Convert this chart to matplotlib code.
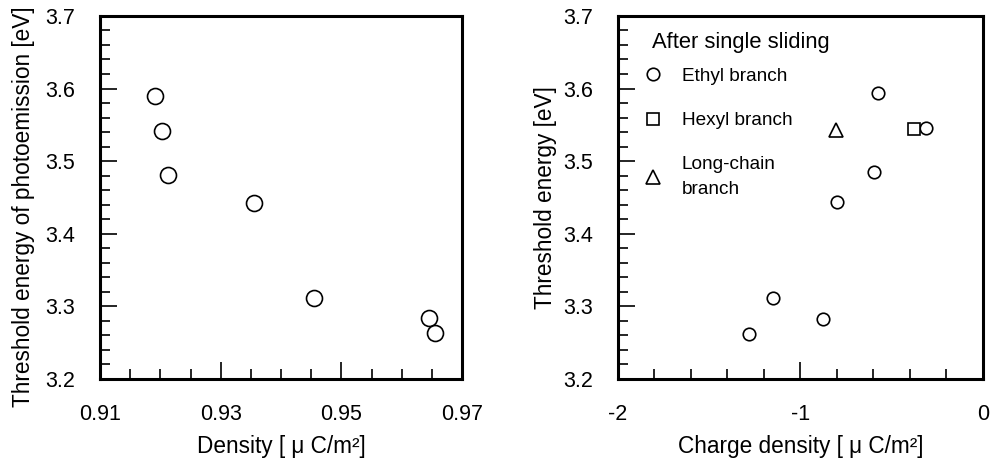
import matplotlib

matplotlib.use("Agg")
import matplotlib.pyplot as plt
from matplotlib.lines import Line2D
from matplotlib.ticker import MultipleLocator

plt.rcParams["font.family"] = ["Liberation Sans", "DejaVu Sans"]

# left panel: density vs threshold energy
density = [0.9191, 0.9203, 0.9212, 0.9355, 0.9454, 0.9646, 0.9656]
threshold_left = [3.590, 3.541, 3.481, 3.442, 3.312, 3.284, 3.263]
density_ticks = [0.91, 0.93, 0.95, 0.97]

# right panel: charge density vs threshold energy
ethyl_charge = [-0.575, -0.314, -0.599, -0.798, -1.151, -0.877, -1.282]
ethyl_energy = [3.594, 3.545, 3.485, 3.444, 3.312, 3.283, 3.262]
hexyl_charge = [-0.380]
hexyl_energy = [3.544]
long_charge = [-0.807]
long_energy = [3.543]
legend_labels = ["Ethyl branch", "Hexyl branch", "Long-chain\nbranch"]

TICK_FS = 15.5
LABEL_FS = 16.3

fig = plt.figure(figsize=(9.94, 4.61), dpi=100)
ax1 = fig.add_axes([0.1006, 0.178, 0.3642, 0.7875])
ax2 = fig.add_axes([0.6217, 0.178, 0.3672, 0.7875])


def style_axes(ax):
    for spine in ax.spines.values():
        spine.set_linewidth(2.2)
    ax.tick_params(which="both", direction="in", top=False, right=False,
                   width=1.2, labelsize=TICK_FS, pad=18)
    ax.tick_params(which="major", length=12)
    ax.tick_params(which="minor", length=7.5)
    ax.set_ylim(3.2, 3.7)
    ax.yaxis.set_major_locator(MultipleLocator(0.1))
    ax.yaxis.set_minor_locator(MultipleLocator(0.02))
    ax.yaxis.set_major_formatter(plt.FormatStrFormatter("%.1f"))


marker_kw = dict(linestyle="none", markerfacecolor="white",
                 markeredgecolor="black", markeredgewidth=1.2)

style_axes(ax1)
ax1.plot(density, threshold_left, marker="o", markersize=11.5, **marker_kw)
ax1.set_xlim(0.91, 0.97)
ax1.set_xticks(density_ticks)
ax1.xaxis.set_minor_locator(MultipleLocator(0.005))
ax1.xaxis.set_major_formatter(plt.FormatStrFormatter("%.2f"))
ax1.set_xlabel("Density [ μ C/m²]", fontsize=LABEL_FS, labelpad=7)
ax1.set_ylabel("Threshold energy of photoemission [eV]", fontsize=LABEL_FS)
ax1.yaxis.set_label_coords(-0.18, 0.474)

style_axes(ax2)
ax2.plot(ethyl_charge, ethyl_energy, marker="o", markersize=9, **marker_kw)
ax2.plot(hexyl_charge, hexyl_energy, marker="s", markersize=9, **marker_kw)
ax2.plot(long_charge, long_energy, marker="^", markersize=10, **marker_kw)
ax2.set_xlim(-2, 0)
ax2.xaxis.set_major_locator(MultipleLocator(1))
ax2.xaxis.set_minor_locator(MultipleLocator(0.2))
ax2.xaxis.set_major_formatter(plt.FormatStrFormatter("%d"))
ax2.set_xlabel("Charge density [ μ C/m²]", fontsize=LABEL_FS, labelpad=7)
ax2.set_ylabel("Threshold energy [eV]", fontsize=LABEL_FS)
ax2.yaxis.set_label_coords(-0.166, 0.5)

handles = [
    Line2D([], [], marker="o", markersize=9, **marker_kw),
    Line2D([], [], marker="s", markersize=9, **marker_kw),
    Line2D([], [], marker="^", markersize=10, **marker_kw),
]
ax2.text(0.093, 0.912, "After single sliding", transform=ax2.transAxes,
         fontsize=15.8, ha="left", va="baseline")
leg = ax2.legend(handles, legend_labels, loc="upper left", bbox_to_anchor=(0.049, 0.878),
                 frameon=False, fontsize=13.7, handlelength=1.0,
                 handletextpad=1.0, labelspacing=1.42, borderaxespad=0.0)
for t in leg.get_texts():
    t.set_linespacing(1.55)

fig.savefig("out.png", dpi=100)
